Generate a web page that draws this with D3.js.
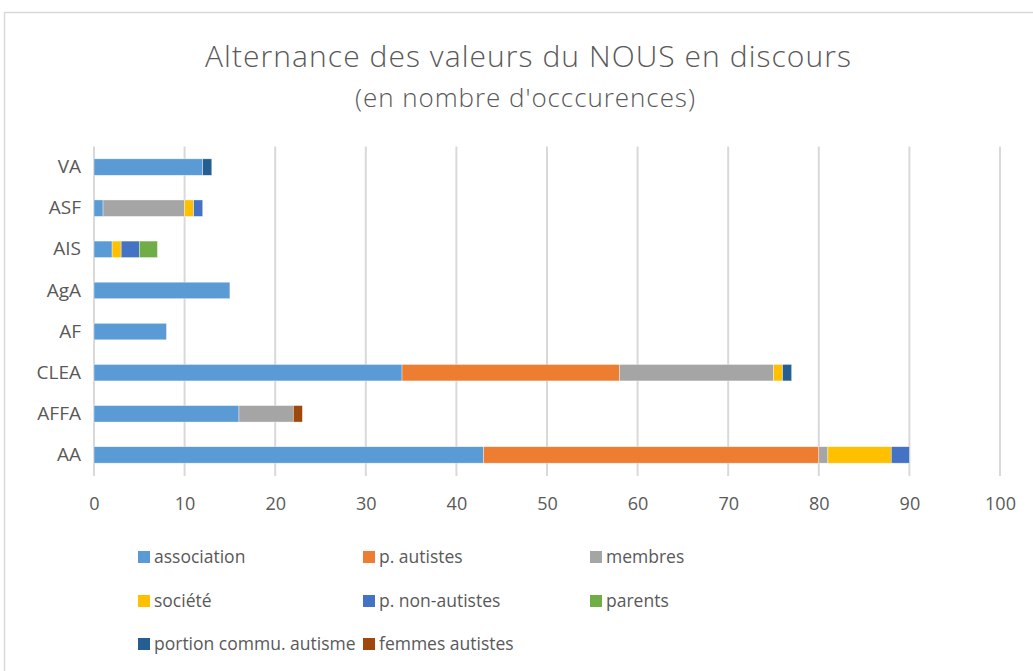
<!DOCTYPE html>
<html>
<head>
<meta charset="utf-8">
<script src="https://cdn.jsdelivr.net/npm/d3@7"></script>
<style>
  body { margin: 0; background: #fff; }
  text { font-family: "Open Sans", "Liberation Sans", sans-serif; fill: #595959; }
</style>
</head>
<body>
<svg id="chart" width="1033" height="671"></svg>
<script>
// categories, top to bottom as in the picture
const categories = ["VA", "ASF", "AIS", "AgA", "AF", "CLEA", "AFFA", "AA"];
const seriesNames = ["association", "p. autistes", "membres", "société",
                     "p. non-autistes", "parents", "portion commu. autisme", "femmes autistes"];
const seriesColors = ["#5B9BD5", "#ED7D31", "#A5A5A5", "#FFC000",
                      "#4472C4", "#70AD47", "#255E91", "#9E480E"];

// values per series, same order as categories
const association    = [12, 1, 2, 15, 8, 34, 16, 43];
const pAutistes      = [0, 0, 0, 0, 0, 24, 0, 37];
const membres        = [0, 9, 0, 0, 0, 17, 6, 1];
const societe        = [0, 1, 1, 0, 0, 1, 0, 7];
const pNonAutistes   = [0, 1, 2, 0, 0, 0, 0, 2];
const parents        = [0, 0, 2, 0, 0, 0, 0, 0];
const portionCommu   = [1, 0, 0, 0, 0, 1, 0, 0];
const femmesAutistes = [0, 0, 0, 0, 0, 0, 1, 0];
const xTicks = [0, 10, 20, 30, 40, 50, 60, 70, 80, 90, 100];

const seriesValues = [association, pAutistes, membres, societe,
                      pNonAutistes, parents, portionCommu, femmesAutistes];

const rows = categories.map((c, i) => {
  const r = { cat: c };
  seriesNames.forEach((s, j) => { r[s] = seriesValues[j][i]; });
  return r;
});

const svg = d3.select("#chart");

// chart frame
svg.append("rect")
  .attr("x", 4.5).attr("y", 12.5).attr("width", 1040).attr("height", 680)
  .attr("fill", "#fff").attr("stroke", "#d9d9d9").attr("stroke-width", 1.5);

const x = d3.scaleLinear().domain([0, 100]).range([94, 1000]);
const y = d3.scaleBand().domain(categories).range([146.5, 475.5]).paddingInner(0.6).paddingOuter(0.3);

// title (Calibri Light look-alike: stretched a little to the same extent)
svg.append("text").attr("x", 528).attr("y", 67).attr("text-anchor", "middle")
  .style("font-size", "30px").style("font-weight", 300)
  .attr("textLength", 646).attr("lengthAdjust", "spacing")
  .text("Alternance des valeurs du NOUS en discours");
svg.append("text").attr("x", 525).attr("y", 107).attr("text-anchor", "middle")
  .style("font-size", "26px").style("font-weight", 300)
  .attr("textLength", 340).attr("lengthAdjust", "spacing")
  .text("(en nombre d'occcurences)");

// gridlines
svg.append("g").selectAll("line").data(xTicks).join("line")
  .attr("x1", d => x(d)).attr("x2", d => x(d))
  .attr("y1", 146.5).attr("y2", 476)
  .attr("stroke", "#d9d9d9").attr("stroke-width", 2);

// x axis labels
const xAxis = d3.axisBottom(x).tickValues(xTicks).tickSize(0).tickPadding(0);
svg.append("g").attr("transform", "translate(0,497)").call(xAxis)
  .call(g => g.select(".domain").remove())
  .call(g => g.selectAll("text").attr("fill", "#595959").attr("dy", "0.71em")
    .style("font-size", "18px").style("font-family", "\"Open Sans\", sans-serif"));

// y axis labels
const yAxis = d3.axisLeft(y).tickSize(0).tickPadding(0);
svg.append("g").attr("transform", "translate(81,0)").call(yAxis)
  .call(g => g.select(".domain").remove())
  .call(g => g.selectAll("text").attr("fill", "#595959")
    .style("font-size", "19px").style("font-family", "\"Open Sans\", sans-serif"));

// stacked bars
const stacked = d3.stack().keys(seriesNames)(rows);
svg.append("g").selectAll("g").data(stacked).join("g")
  .attr("fill", (d, i) => seriesColors[i])
  .selectAll("rect").data(d => d.filter(p => p[1] - p[0] > 0)).join("rect")
  .attr("x", d => x(d[0]))
  .attr("width", d => x(d[1]) - x(d[0]))
  .attr("y", d => y(d.data.cat))
  .attr("height", y.bandwidth())
  .attr("stroke", "#fff").attr("stroke-width", 0.6).attr("stroke-opacity", 0.6);

// legend
const legendCols = [138, 363, 590];
const legendRows = [557, 601, 644];
const legend = svg.append("g").selectAll("g").data(seriesNames).join("g")
  .attr("transform", (d, i) => `translate(${legendCols[i % 3]},${legendRows[Math.floor(i / 3)]})`);
legend.append("rect").attr("x", 0).attr("y", -6).attr("width", 12).attr("height", 12)
  .attr("fill", (d, i) => seriesColors[i]);
legend.append("text").attr("x", 16).attr("dy", "0.35em")
  .style("font-size", "17.5px").text(d => d);
</script>
</body>
</html>
